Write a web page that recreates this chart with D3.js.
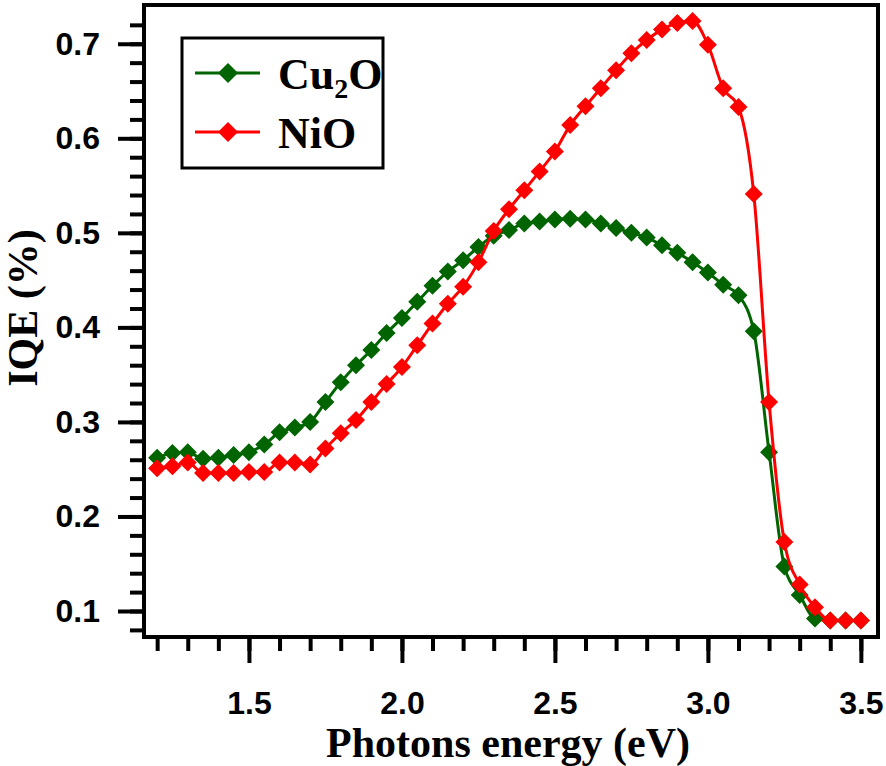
<!DOCTYPE html>
<html lang="en">
<head>
<meta charset="utf-8" />
<title>IQE vs photon energy</title>
<script src="https://d3js.org/d3.v7.min.js"></script>
<style>
  body { margin: 0; background: #fff; }
  svg { display: block; }
</style>
</head>
<body>
<div id="chart"></div>
<script>
// photon energy (eV), one point every 0.05 eV
const energy = [1.20, 1.25, 1.30, 1.35, 1.40, 1.45, 1.50, 1.55, 1.60, 1.65,
                1.70, 1.75, 1.80, 1.85, 1.90, 1.95, 2.00, 2.05, 2.10, 2.15,
                2.20, 2.25, 2.30, 2.35, 2.40, 2.45, 2.50, 2.55, 2.60, 2.65,
                2.70, 2.75, 2.80, 2.85, 2.90, 2.95, 3.00, 3.05, 3.10, 3.15,
                3.20, 3.25, 3.30, 3.35, 3.40, 3.45, 3.50];

const cu2o = [0.262, 0.267, 0.268, 0.261, 0.262, 0.265, 0.268, 0.276, 0.289, 0.294,
              0.300, 0.321, 0.342, 0.360, 0.376, 0.394, 0.410, 0.427, 0.444, 0.459,
              0.471, 0.485, 0.497, 0.503, 0.510, 0.512, 0.514, 0.515, 0.514, 0.510,
              0.505, 0.500, 0.495, 0.487, 0.479, 0.469, 0.458, 0.445, 0.434, 0.396,
              0.268, 0.147, 0.117, 0.092, 0.090, 0.090, 0.090];

const nio = [0.251, 0.253, 0.257, 0.246, 0.246, 0.246, 0.247, 0.247, 0.257, 0.257,
             0.255, 0.272, 0.288, 0.302, 0.321, 0.340, 0.358, 0.381, 0.404, 0.425,
             0.443, 0.469, 0.502, 0.525, 0.545, 0.565, 0.586, 0.614, 0.634, 0.653,
             0.672, 0.690, 0.704, 0.715, 0.722, 0.724, 0.699, 0.653, 0.633, 0.541,
             0.321, 0.173, 0.128, 0.104, 0.090, 0.090, 0.090];

const xMajor = [1.5, 2.0, 2.5, 3.0, 3.5];
const yMajor = [0.1, 0.2, 0.3, 0.4, 0.5, 0.6, 0.7];

const series = [
    { name: "Cu2O", values: cu2o, color: "#006400" },
    { name: "NiO", values: nio, color: "#ff0000" }
];

const W = 886, H = 766;
const plotL = 144, plotR = 878, plotT = 5, plotB = 637;

const svg = d3.select("#chart").append("svg")
    .attr("width", W)
    .attr("height", H);

const x = d3.scaleLinear().domain([1.157, 3.556]).range([plotL, plotR]);
const y = d3.scaleLinear().domain([0.0725, 0.741]).range([plotB, plotT]);

const xMinor = d3.range(12, 36).map(d => d / 10);
const yMinor = d3.range(4, 37).map(d => d / 50);

const tickFont = "'Liberation Sans', Arial, sans-serif";
const titleFont = "'Liberation Serif', 'Times New Roman', serif";

// minor ticks
svg.append("g")
    .attr("transform", `translate(0,${plotB})`)
    .call(d3.axisBottom(x).tickValues(xMinor).tickSize(14).tickFormat(""))
    .call(g => g.select(".domain").remove());
svg.append("g")
    .attr("transform", `translate(${plotL},0)`)
    .call(d3.axisLeft(y).tickValues(yMinor).tickSize(14).tickFormat(""))
    .call(g => g.select(".domain").remove());

// major ticks with labels
svg.append("g")
    .attr("transform", `translate(0,${plotB})`)
    .call(d3.axisBottom(x).tickValues(xMajor).tickSize(26).tickPadding(28)
        .tickFormat(d3.format(".1f")))
    .call(g => g.select(".domain").remove());
svg.append("g")
    .attr("transform", `translate(${plotL},0)`)
    .call(d3.axisLeft(y).tickValues(yMajor).tickSize(26).tickPadding(18)
        .tickFormat(d3.format(".1f")))
    .call(g => g.select(".domain").remove());

svg.selectAll(".tick line")
    .attr("stroke", "#000")
    .attr("stroke-width", 4);
svg.selectAll(".tick text")
    .attr("fill", "#000")
    .style("font-family", tickFont)
    .style("font-weight", "bold")
    .style("font-size", "32px");

// frame
svg.append("rect")
    .attr("x", plotL)
    .attr("y", plotT)
    .attr("width", plotR - plotL)
    .attr("height", plotB - plotT)
    .attr("fill", "none")
    .attr("stroke", "#000")
    .attr("stroke-width", 4);

// axis titles
svg.append("text")
    .attr("x", (plotL + plotR) / 2 - 3)
    .attr("y", 757)
    .attr("text-anchor", "middle")
    .style("font-family", titleFont)
    .style("font-weight", "bold")
    .style("font-size", "42px")
    .text("Photons energy (eV)");

svg.append("text")
    .attr("transform", "translate(37,308) rotate(-90)")
    .attr("text-anchor", "middle")
    .style("font-family", titleFont)
    .style("font-weight", "bold")
    .style("font-size", "42px")
    .text("IQE (%)");

// lines and markers
const diamond = h => `M0,${-h}L${h},0L0,${h}L${-h},0Z`;
const line = d3.line()
    .x((d, i) => x(energy[i]))
    .y(d => y(d))
    .curve(d3.curveMonotoneX);

series.forEach(s => {
    svg.append("path")
        .datum(s.values)
        .attr("d", line)
        .attr("fill", "none")
        .attr("stroke", s.color)
        .attr("stroke-width", 3);
    svg.append("g")
        .selectAll("path")
        .data(s.values)
        .join("path")
        .attr("transform", (d, i) => `translate(${x(energy[i])},${y(d)})`)
        .attr("d", diamond(9))
        .attr("fill", s.color);
});

// legend
const legend = svg.append("g");
legend.append("rect")
    .attr("x", 182)
    .attr("y", 38)
    .attr("width", 201)
    .attr("height", 130)
    .attr("fill", "#fff")
    .attr("stroke", "#000")
    .attr("stroke-width", 3);

const legendY = [73, 132];
series.forEach((s, i) => {
    const g = legend.append("g").attr("transform", `translate(0,${legendY[i]})`);
    g.append("line")
        .attr("x1", 195).attr("x2", 260)
        .attr("stroke", s.color)
        .attr("stroke-width", 3);
    g.append("path")
        .attr("transform", "translate(228,0)")
        .attr("d", diamond(10))
        .attr("fill", s.color);
    const t = g.append("text")
        .attr("x", 278)
        .attr("y", 16)
        .style("font-family", titleFont)
        .style("font-weight", "bold")
        .style("font-size", "44px")
        .attr("fill", "#000");
    if (s.name === "Cu2O") {
        t.append("tspan").text("Cu");
        t.append("tspan").attr("dy", 9).style("font-size", "28px").text("2");
        t.append("tspan").attr("dy", -9).text("O");
    } else {
        t.text(s.name);
    }
});
</script>
</body>
</html>
